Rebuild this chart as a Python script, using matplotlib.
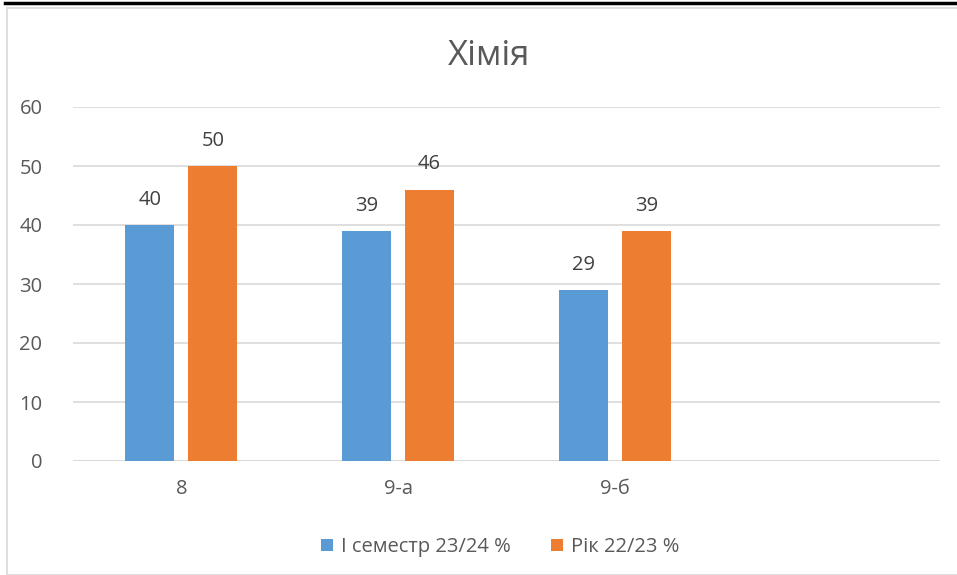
import numpy as np
import matplotlib.pyplot as plt
from matplotlib.patches import Rectangle

plt.rcParams['font.family'] = ['Open Sans', 'DejaVu Sans']

# data
categories = ['8', '9-а', '9-б', '']
sem_vals = [40, 39, 29, None]
year_vals = [50, 46, 39, None]
series_names = ['І семестр 23/24 %', 'Рік 22/23 %']
colors = ['#5B9BD5', '#ED7D31']

fig = plt.figure(figsize=(9.57, 5.75), dpi=100)
W, H = 957, 575

# frame of the chart object + cut page line above
fig.patches.append(Rectangle((7 / W, 0), 1, 1 - 8 / H, transform=fig.transFigure,
                             fill=False, edgecolor='#D9D9D9', linewidth=1.2))
fig.add_artist(plt.Line2D([5 / W, 1], [1 - 3 / H, 1 - 3 / H], color='black',
                          linewidth=2.5, transform=fig.transFigure))

ax = fig.add_axes([73 / W, 1 - 461 / H, (940 - 73) / W, (461 - 107) / H])

x = np.arange(len(categories))
bw = 0.226
off = 0.145
for i, (vals, c, name) in enumerate(zip([sem_vals, year_vals], colors, series_names)):
    xs = [xi for xi, v in zip(x, vals) if v is not None]
    vs = [v for v in vals if v is not None]
    pos = np.array(xs) + (off if i else -off)
    ax.bar(pos, vs, width=bw, color=c, label=name, zorder=3)
    for p, v in zip(pos, vs):
        ax.text(p, v + 4.3, str(v), ha='center', va='center', fontsize=14.5,
                color='#404040')

ax.set_xlim(-0.5, len(categories) - 0.5)
ax.set_ylim(0, 60)
ax.set_yticks(range(0, 61, 10))
ax.yaxis.grid(True, color='#D9D9D9', linewidth=1.2, zorder=0)
ax.set_axisbelow(True)
for s in ax.spines.values():
    s.set_visible(False)
ax.axhline(0, color='#D9D9D9', linewidth=1.2, zorder=1)
ax.set_xticks(x)
ax.set_xticklabels(categories)
ax.tick_params(axis='both', length=0, labelsize=14.5, labelcolor='#595959')
ax.tick_params(axis='y', pad=22)
ax.tick_params(axis='x', pad=13)

fig.text(489 / W, 1 - 56 / H, 'Хімія', ha='center', va='center', fontsize=25,
         color='#595959')

leg = fig.legend(loc='center', bbox_to_anchor=(500 / W, 1 - 547 / H), ncol=2,
                 frameon=False, fontsize=14.5, handlelength=0.6, handleheight=0.6,
                 handletextpad=0.4, columnspacing=2.0)
for t in leg.get_texts():
    t.set_color('#595959')

fig.savefig('out.png', dpi=100)
